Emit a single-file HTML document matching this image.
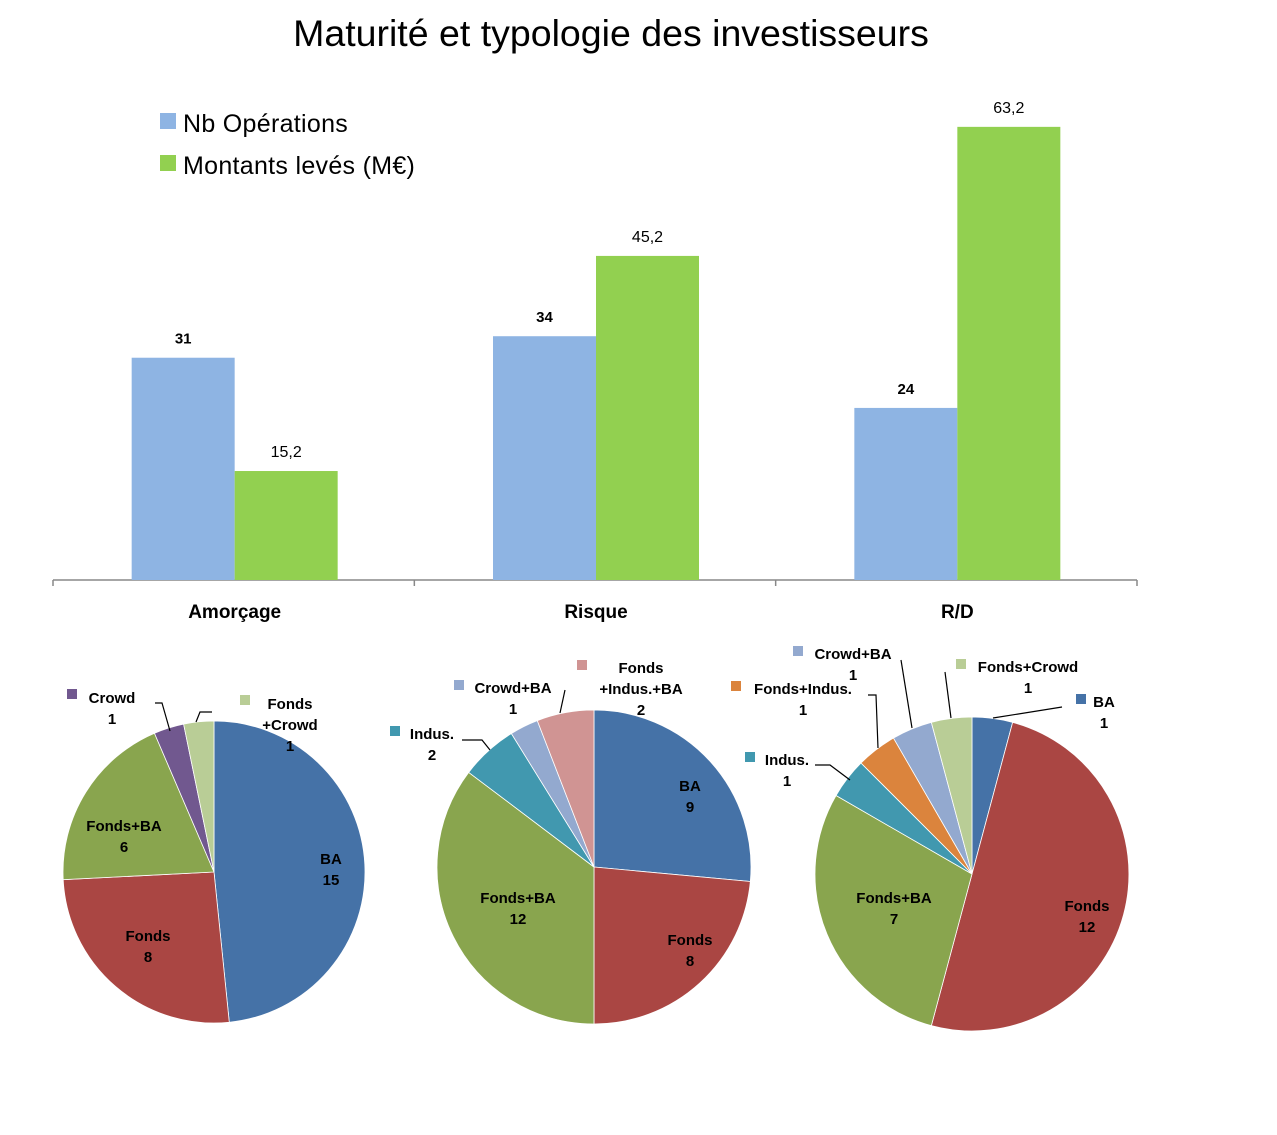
<!DOCTYPE html>
<html><head><meta charset="utf-8">
<style>
html,body{margin:0;padding:0;background:#fff;}
svg{display:block;font-family:"Liberation Sans",sans-serif;}
.b{font-weight:bold;font-size:15px;fill:#000;}
</style></head>
<body>
<svg id="chart" width="1277" height="1135" viewBox="0 0 1277 1135">
<text x="611" y="46" text-anchor="middle" font-size="37.5">Maturité et typologie des investisseurs</text>
<g>
<rect x="160" y="113" width="16" height="16" fill="#8EB4E3"/>
<text x="183" y="132" font-size="25" letter-spacing="0.3">Nb Opérations</text>
<rect x="160" y="155" width="16" height="16" fill="#92D050"/>
<text x="183" y="174" font-size="25" letter-spacing="0.3">Montants levés (M€)</text>
</g>
<g id="bars"></g>
<g id="pies"></g>
<g fill="none" stroke="#000" stroke-width="1.2">
<path d="M155 703 L162 703 L170 731"/><path d="M212 712 L200 712 L196 722"/>
<path d="M462 740 L482 740 L490 750"/><path d="M565 690 L560 713"/>
<path d="M815 765 L830 765 L850 780"/><path d="M868 695 L876 695 L878 748"/>
<path d="M901 660 L912 728"/><path d="M945 672 L951 718"/><path d="M1062 707 L993 718"/>
</g>
<g id="labels"></g>
</svg>
<script>
const NS='http://www.w3.org/2000/svg';
const categories=['Amorçage','Risque','R/D'];
const opsValues=[31,34,24];
const amountValues=[15.2,45.2,63.2];
const amountLabels=['15,2','45,2','63,2'];
const baseY=580, scale=7.17, x0=53, x1=1137, bw=103;
const bars=document.getElementById('bars');
function el(t,a,p){const e=document.createElementNS(NS,t);for(const k in a)e.setAttribute(k,a[k]);(p||bars).appendChild(e);return e;}
const yOf=v=>baseY-v*scale;
const band=(x1-x0)/categories.length;
el('line',{x1:x0,y1:baseY,x2:x1,y2:baseY,stroke:'#888','stroke-width':1.5});
for(let i=0;i<=categories.length;i++){el('line',{x1:x0+band*i,y1:baseY,x2:x0+band*i,y2:baseY+6,stroke:'#888','stroke-width':1.5});}
categories.forEach((c,i)=>{
 const cx=x0+band*(i+0.5)+1;
 const r1=el('rect',{x:cx-bw,y:yOf(opsValues[i]),width:bw,height:opsValues[i]*scale,fill:'#8EB4E3'});
 
 
 const r2=el('rect',{x:cx,y:yOf(amountValues[i]),width:bw,height:amountValues[i]*scale,fill:'#92D050'});
 
 
 const t1=el('text',{x:cx-bw/2,y:yOf(opsValues[i])-14,'text-anchor':'middle',class:'b'});t1.textContent=opsValues[i];
 
 
 const t2=el('text',{x:cx+bw/2,y:yOf(amountValues[i])-14,'text-anchor':'middle','font-size':16});t2.textContent=amountLabels[i];
 
 
 const t3=el('text',{x:cx,y:618,'text-anchor':'middle',class:'b',style:'font-size:19px'});t3.textContent=c;
 
 
});
const colors={'BA':'#4572A7','Fonds':'#AA4643','Fonds+BA':'#89A54E','Crowd':'#71588F','Fonds+Crowd':'#B9CD96','Indus.':'#4198AF','Crowd+BA':'#93A9CF','Fonds+Indus.+BA':'#D09493','Fonds+Indus.':'#DB843D'};
const pie1Cats=['BA','Fonds','Fonds+BA','Crowd','Fonds+Crowd'];
const pie1Vals=[15,8,6,1,1];
const pie2Cats=['BA','Fonds','Fonds+BA','Indus.','Crowd+BA','Fonds+Indus.+BA'];
const pie2Vals=[9,8,12,2,1,2];
const pie3Cats=['BA','Fonds','Fonds+BA','Indus.','Fonds+Indus.','Crowd+BA','Fonds+Crowd'];
const pie3Vals=[1,12,7,1,1,1,1];
const pies=document.getElementById('pies');
function drawPie(cats,vals,cx,cy,r,idx){
 const tot=vals.reduce((a,b)=>a+b,0);let a=0;
 vals.forEach((v,i)=>{
  const a0=a/tot*2*Math.PI,a1=(a+v)/tot*2*Math.PI;a+=v;
  const p=(t)=>[cx+r*Math.sin(t),cy-r*Math.cos(t)];
  const [xa,ya]=p(a0),[xb,yb]=p(a1);
  const d=`M${cx},${cy} L${xa},${ya} A${r},${r} 0 ${a1-a0>Math.PI?1:0} 1 ${xb},${yb} Z`;
  const s=el('path',{d:d,fill:colors[cats[i]],stroke:'#fff','stroke-width':0.8},pies);
  
  
 });
}
drawPie(pie1Cats,pie1Vals,214,872,151,1);
drawPie(pie2Cats,pie2Vals,594,867,157,2);
drawPie(pie3Cats,pie3Vals,972,874,157,3);
const lg=document.getElementById('labels');
function lab(lines,x,y,sw,name){
 const g=el('g',{},lg);
 
 
 lines.forEach((l,i)=>{const t=el('text',{x:x,y:y+i*21,'text-anchor':'middle',class:'b'},g);t.textContent=l;});
 if(sw){el('rect',{x:sw[0],y:sw[1],width:10,height:10,fill:sw[2]},g);}
}
lab(['BA','15'],331,864,null,'label-p1-ba');
lab(['Fonds','8'],148,941,null,'label-p1-fonds');
lab(['Fonds+BA','6'],124,831,null,'label-p1-fondsba');
lab(['Crowd','1'],112,703,[67,689,colors['Crowd']],'label-p1-crowd');
lab(['Fonds','+Crowd','1'],290,709,[240,695,colors['Fonds+Crowd']],'label-p1-fondscrowd');
lab(['BA','9'],690,791,null,'label-p2-ba');
lab(['Fonds','8'],690,945,null,'label-p2-fonds');
lab(['Fonds+BA','12'],518,903,null,'label-p2-fondsba');
lab(['Indus.','2'],432,739,[390,726,colors['Indus.']],'label-p2-indus');
lab(['Crowd+BA','1'],513,693,[454,680,colors['Crowd+BA']],'label-p2-crowdba');
lab(['Fonds','+Indus.+BA','2'],641,673,[577,660,colors['Fonds+Indus.+BA']],'label-p2-fondsindusba');
lab(['BA','1'],1104,707,[1076,694,colors['BA']],'label-p3-ba');
lab(['Fonds','12'],1087,911,null,'label-p3-fonds');
lab(['Fonds+BA','7'],894,903,null,'label-p3-fondsba');
lab(['Indus.','1'],787,765,[745,752,colors['Indus.']],'label-p3-indus');
lab(['Fonds+Indus.','1'],803,694,[731,681,colors['Fonds+Indus.']],'label-p3-fondsindus');
lab(['Crowd+BA','1'],853,659,[793,646,colors['Crowd+BA']],'label-p3-crowdba');
lab(['Fonds+Crowd','1'],1028,672,[956,659,colors['Fonds+Crowd']],'label-p3-fondscrowd');
</script>
</body></html>
